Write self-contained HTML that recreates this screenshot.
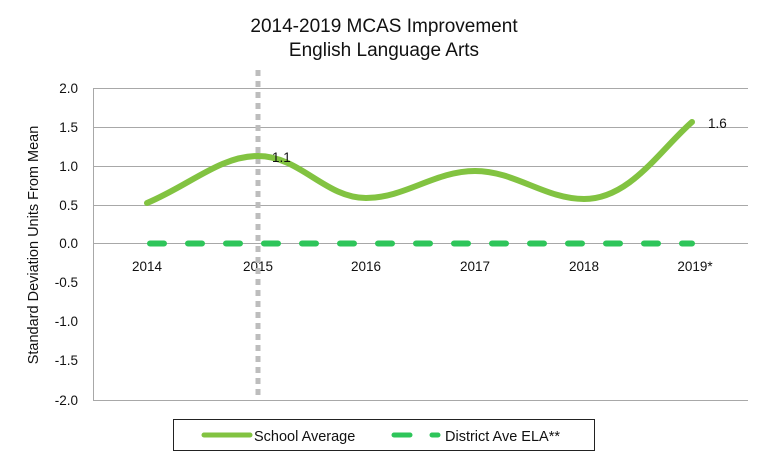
<!DOCTYPE html>
<html><head><meta charset="utf-8"><style>
body{margin:0;background:#fff;}
svg{display:block;font-family:"Liberation Sans",sans-serif;}
</style></head><body>
<svg width="768" height="461" viewBox="0 0 768 461">
<text x="384" y="32" text-anchor="middle" font-size="19" fill="#111">2014-2019 MCAS Improvement</text>
<text x="384" y="56" text-anchor="middle" font-size="19" fill="#111">English Language Arts</text>
<g stroke="#a8a8a8" stroke-width="1">
<line x1="93" y1="88.5" x2="748" y2="88.5"/>
<line x1="93" y1="127.5" x2="748" y2="127.5"/>
<line x1="93" y1="166.5" x2="748" y2="166.5"/>
<line x1="93" y1="205.5" x2="748" y2="205.5"/>
<line x1="93" y1="243.5" x2="748" y2="243.5"/>
<line x1="93" y1="400.5" x2="748" y2="400.5"/>
<line x1="93.5" y1="88" x2="93.5" y2="400"/>
</g>
<g font-size="13.5" fill="#111" text-anchor="end">
<text x="78" y="93">2.0</text><text x="78" y="132">1.5</text><text x="78" y="171">1.0</text>
<text x="78" y="210">0.5</text><text x="78" y="248">0.0</text><text x="78" y="287">-0.5</text>
<text x="78" y="326">-1.0</text><text x="78" y="365">-1.5</text><text x="78" y="405">-2.0</text>
</g>
<text transform="translate(38,245) rotate(-90)" text-anchor="middle" font-size="14.5" fill="#111">Standard Deviation Units From Mean</text>
<g font-size="13.5" fill="#111" text-anchor="middle">
<text x="147" y="271">2014</text><text x="258" y="271">2015</text><text x="366" y="271">2016</text>
<text x="475" y="271">2017</text><text x="584" y="271">2018</text><text x="695" y="271">2019*</text>
</g>
<line x1="258" y1="70" x2="258" y2="400" stroke="#bdbdbd" stroke-width="5" stroke-dasharray="6 5"/>
<line x1="150" y1="243.5" x2="692" y2="243.5" stroke="#2ec55a" stroke-width="6" stroke-linecap="round" stroke-dasharray="14 24"/>
<path d="M147,203 C190,185 220,156 258,156 C300,156 325,198 366,198 C405,198 435,171 475,171 C515,171 545,199 584,199 C630,199 660,150 692,122" fill="none" stroke="#82c341" stroke-width="6" stroke-linecap="round"/>
<text x="272" y="162" font-size="13.5" fill="#111">1.1</text>
<text x="708" y="128" font-size="13.5" fill="#111">1.6</text>
<rect x="173.5" y="419.5" width="421" height="31" fill="none" stroke="#222" stroke-width="1"/>
<line x1="204" y1="435" x2="250" y2="435" stroke="#82c341" stroke-width="5" stroke-linecap="round"/>
<text x="254" y="441" font-size="14.5" fill="#111">School Average</text>
<line x1="394" y1="435" x2="410" y2="435" stroke="#2ec55a" stroke-width="5" stroke-linecap="round"/>
<line x1="432" y1="435" x2="438" y2="435" stroke="#2ec55a" stroke-width="5" stroke-linecap="round"/>
<text x="445" y="441" font-size="14.5" fill="#111">District Ave ELA**</text>
</svg>
</body></html>
